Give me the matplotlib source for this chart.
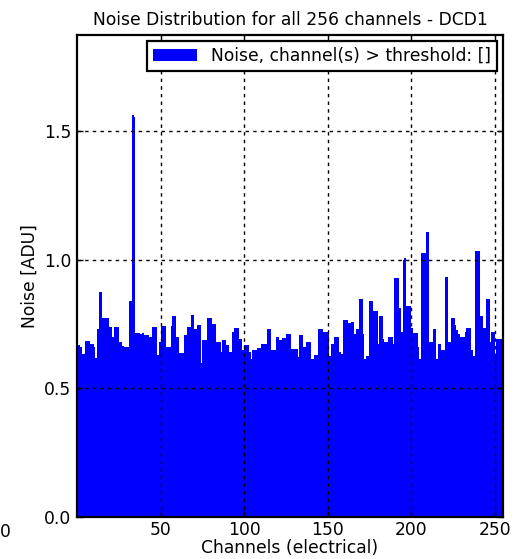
import matplotlib
matplotlib.use("Agg")
import matplotlib.pyplot as plt
import numpy as np

title = "Noise Distribution for all 256 channels - DCD1"
xlabel = "Channels (electrical)"
ylabel = "Noise [ADU]"
legend_label = "Noise, channel(s) > threshold: []"
xticks = [50, 100, 150, 200, 250]
yticks = [0.0, 0.5, 1.0, 1.5]

noise = [
    0.667, 0.667, 0.660, 0.635, 0.635, 0.683, 0.683, 0.683, 0.673, 0.673,
    0.660, 0.616, 0.732, 0.873, 0.873, 0.771, 0.771, 0.771, 0.771, 0.738,
    0.738, 0.700, 0.738, 0.738, 0.738, 0.680, 0.680, 0.665, 0.660, 0.660,
    0.660, 0.840, 0.840, 1.560, 1.555, 0.713, 0.713, 0.713, 0.712, 0.713,
    0.705, 0.705, 0.705, 0.700, 0.700, 0.738, 0.738, 0.738, 0.628, 0.680,
    0.740, 0.740, 0.740, 0.660, 0.660, 0.660, 0.740, 0.780, 0.780, 0.700,
    0.700, 0.637, 0.637, 0.637, 0.706, 0.706, 0.738, 0.738, 0.785, 0.785,
    0.730, 0.730, 0.744, 0.744, 0.600, 0.686, 0.686, 0.686, 0.774, 0.774,
    0.774, 0.750, 0.750, 0.680, 0.680, 0.680, 0.640, 0.686, 0.686, 0.667,
    0.667, 0.640, 0.640, 0.718, 0.735, 0.735, 0.735, 0.692, 0.692, 0.648,
    0.667, 0.667, 0.667, 0.640, 0.615, 0.648, 0.648, 0.648, 0.657, 0.657,
    0.673, 0.673, 0.673, 0.673, 0.731, 0.731, 0.648, 0.648, 0.648, 0.700,
    0.700, 0.686, 0.686, 0.695, 0.695, 0.712, 0.712, 0.712, 0.654, 0.654,
    0.654, 0.654, 0.620, 0.705, 0.705, 0.660, 0.660, 0.680, 0.680, 0.680,
    0.615, 0.615, 0.628, 0.628, 0.731, 0.731, 0.731, 0.720, 0.720, 0.720,
    0.727, 0.625, 0.673, 0.673, 0.700, 0.700, 0.700, 0.640, 0.635, 0.764,
    0.764, 0.764, 0.754, 0.754, 0.757, 0.757, 0.710, 0.730, 0.730, 0.848,
    0.848, 0.710, 0.615, 0.627, 0.627, 0.840, 0.840, 0.800, 0.800, 0.800,
    0.670, 0.780, 0.780, 0.690, 0.680, 0.680, 0.700, 0.700, 0.700, 0.670,
    0.930, 0.930, 0.930, 0.810, 0.718, 1.000, 1.005, 0.820, 0.820, 0.820,
    0.733, 0.715, 0.715, 0.715, 0.660, 0.615, 1.026, 1.026, 1.026, 1.106,
    1.106, 0.680, 0.680, 0.731, 0.731, 0.615, 0.670, 0.670, 0.648, 0.648,
    0.934, 0.934, 0.680, 0.680, 0.774, 0.774, 0.745, 0.725, 0.710, 0.700,
    0.700, 0.700, 0.720, 0.733, 0.733, 0.733, 0.648, 0.627, 1.033, 1.033,
    1.033, 0.780, 0.780, 0.735, 0.735, 0.848, 0.848, 0.680, 0.718, 0.718,
    0.620, 0.690, 0.690, 0.690, 0.690, 0.690,
]
channels = np.arange(len(noise))

FS = 12.3

fig = plt.figure(figsize=(5.25, 5.59), dpi=100)
ax = fig.add_axes([77/525, 1-517/559, (503-77)/525, (517-35)/559])

ax.bar(channels, noise, width=1.0, align="edge", color="#0000ff",
       linewidth=0, label=legend_label, zorder=1)

ax.set_xlim(0, 255)
ax.set_ylim(0, max(noise) * 1.2)
ax.set_xticks(xticks)
ax.set_yticks(yticks)
ax.set_yticklabels([f"{t:.1f}" for t in yticks])
ax.grid(True, color="black", linestyle=(0, (2.5, 3)), linewidth=1.0, zorder=3)
ax.set_axisbelow(False)
ax.tick_params(direction="in", top=True, right=True, length=4, width=1,
               labelsize=FS, colors="black", pad=4)
ax.tick_params(axis="x", pad=3)
for sp in ax.spines.values():
    sp.set_linewidth(1.6)
    sp.set_zorder(4)

ax.set_title(title, fontsize=FS, pad=7)
ax.set_xlabel(xlabel, fontsize=FS, labelpad=0)
ax.set_ylabel(ylabel, fontsize=FS, labelpad=4)

leg = ax.legend(loc="upper right", fontsize=FS, fancybox=False,
                framealpha=1, edgecolor="black", borderaxespad=0.35,
                handlelength=2.6, borderpad=0.35)
leg.get_frame().set_linewidth(1.6)

fig.text(0.0, 1-532/559, "0", fontsize=FS, va="center", ha="left")

fig.savefig("out.png", dpi=100)
